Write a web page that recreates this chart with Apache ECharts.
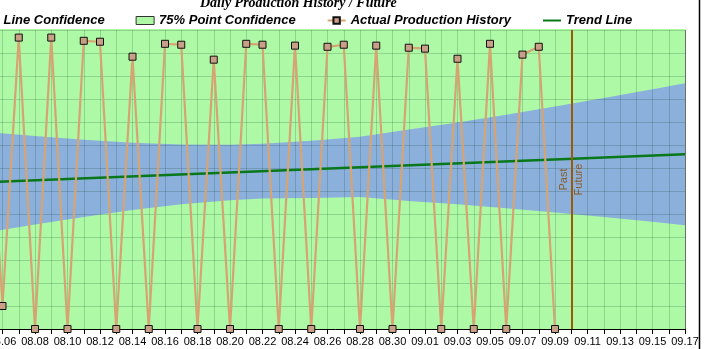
<!DOCTYPE html>
<html>
<head>
<meta charset="utf-8">
<script src="https://cdn.jsdelivr.net/npm/echarts@6/dist/echarts.min.js"></script>
<style>
  html, body { margin: 0; padding: 0; background: #ffffff; overflow: hidden; width: 722px; height: 349px; }
  /* the drawing surface starts 24px left of the page edge */
  #chart { position: absolute; left: -24px; top: 0; width: 746px; height: 349px; }
</style>
</head>
<body>
<div id="chart"></div>
<script>
// Daily production (MM.DD) and measured volume
const prodDates = ['08.05','08.06','08.07','08.08','08.09','08.10','08.11','08.12','08.13','08.14',
                   '08.15','08.16','08.17','08.18','08.19','08.20','08.21','08.22','08.23','08.24',
                   '08.25','08.26','08.27','08.28','08.29','08.30','08.31','09.01','09.02','09.03',
                   '09.04','09.05','09.06','09.07','09.08','09.09'];
const prodValues = [124, 10, 126.7, 0, 126.7, 0, 125.3, 124.9, 0, 118.4,
                    0, 124.0, 123.6, 0, 117.1, 0, 124.0, 123.6, 0, 123.2,
                    0, 122.7, 123.6, 0, 123.2, 0, 122.3, 121.9, 0, 117.5,
                    0, 124.0, 0, 119.3, 122.7, 0];

// Trend line end points
const trendDates = ['08.05', '09.17'];
const trendValues = [63.8, 76.0];

// Confidence band of the trend line
const lineConfDates = ['08.05','08.08','08.11','08.14','08.17','08.20','08.22','08.25',
                       '08.28','08.31','09.03','09.06','09.09','09.12','09.15','09.17'];
const lineConfLower = [41.96, 45.4, 48.7, 51.7, 54.2, 56.0, 56.7, 57.0,
                       57.4, 55.6, 54.2, 52.5, 50.7, 48.7, 46.6, 45.1];
const lineConfUpper = [85.65, 83.9, 82.3, 81.0, 80.2, 80.1, 80.5, 81.9,
                       83.6, 86.7, 89.8, 93.2, 96.7, 100.4, 104.2, 106.8];

// 75% point confidence band (wider than the plotted range)
const pointConfDates = ['08.05', '09.17'];
const pointConfLower = [-45, -60];
const pointConfUpper = [175, 190];

// Axis range and the past / future boundary
const axisStart = '08.05';
const axisEnd = '09.17';
const boundaryDate = '09.10';
const yMin = 0, yMax = 130, yStep = 10;

const BASE = Date.UTC(2000, 7, 6); // 08.06 = day 0
function dayIndex(md) {
  const [m, d] = md.split('.').map(Number);
  return Math.round((Date.UTC(2000, m - 1, d) - BASE) / 864e5);
}
function dayLabel(v) {
  if (Math.round(v) % 2 !== 0) return '';
  const dt = new Date(BASE + Math.round(v) * 864e5);
  const mm = String(dt.getUTCMonth() + 1).padStart(2, '0');
  const dd = String(dt.getUTCDate()).padStart(2, '0');
  return mm + '.' + dd;
}
const pairs = (dates, vals) => dates.map((d, i) => [dayIndex(d), vals[i]]);

const GREEN_FILL = '#aef9a6';
const BLUE_FILL = '#8cb0dc';
const GRID_LINE = 'rgba(0,50,20,0.18)';
const SHIFT = 24; // canvas offset to the left of the page
const legendFont = { fontFamily: 'Liberation Sans, Arial', fontWeight: 'bold', fontStyle: 'italic', fontSize: 13, color: '#000' };

// A filled band edge: area from the line down to the bottom of the plot
function bandEdge(name, dates, vals, fill, z) {
  return {
    name: name, type: 'line', z: z, silent: true,
    data: pairs(dates, vals),
    symbol: 'none', color: fill,
    lineStyle: { opacity: 0 },
    areaStyle: { color: fill, opacity: 1, origin: 'start' }
  };
}

const chart = echarts.init(document.getElementById('chart'), null, { renderer: 'canvas' });
chart.setOption({
  animation: false,
  backgroundColor: '#ffffff',
  title: {
    text: 'Daily Production History / Future',
    left: 200 + SHIFT, top: -4, padding: 0,
    textStyle: { fontFamily: 'Liberation Serif, Times New Roman', fontWeight: 'bold', fontStyle: 'italic', fontSize: 14, color: '#000' }
  },
  legend: {
    left: -20 + SHIFT, top: 14, padding: 0,
    itemWidth: 18, itemHeight: 8, itemGap: 31,
    textStyle: legendFont,
    data: [
      { name: 'Line Confidence', icon: 'rect', itemStyle: { color: BLUE_FILL, borderColor: '#333', borderWidth: 1 } },
      { name: '75% Point Confidence', icon: 'rect', itemStyle: { color: GREEN_FILL, borderColor: '#333', borderWidth: 1 } },
      { name: 'Actual Production History' },
      { name: 'Trend Line', itemStyle: { color: 'rgba(0,0,0,0)', borderWidth: 0, opacity: 0 } }
    ]
  },
  grid: {
    left: -13.75 + SHIFT, right: 37, top: 30, bottom: 20,
    outerBoundsMode: 'none', containLabel: false,
    show: true, z: -5, backgroundColor: 'transparent', borderColor: '#000', borderWidth: 1
  },
  xAxis: {
    type: 'value',
    min: dayIndex(axisStart), max: dayIndex(axisEnd), interval: 1,
    axisLine: { show: true, onZero: false, lineStyle: { color: '#000', width: 1 } },
    axisTick: { show: true, length: 5, lineStyle: { color: '#000' } },
    axisLabel: { margin: 7, formatter: dayLabel, color: '#000', fontFamily: 'Liberation Sans, Arial', fontSize: 11, showMinLabel: true, showMaxLabel: true },
    splitLine: { show: true, lineStyle: { color: GRID_LINE, width: 1 } }
  },
  yAxis: {
    type: 'value', min: yMin, max: yMax, interval: yStep,
    axisLine: { show: false }, axisTick: { show: false }, axisLabel: { show: false },
    splitLine: { show: true, lineStyle: { color: GRID_LINE, width: 1 } }
  },
  series: [
    bandEdge('75% Point Confidence', pointConfDates, pointConfUpper, GREEN_FILL, -4),
    bandEdge('pcLower', pointConfDates, pointConfLower, '#ffffff', -3),
    bandEdge('Line Confidence', lineConfDates, lineConfUpper, BLUE_FILL, -2),
    bandEdge('lcLower', lineConfDates, lineConfLower, GREEN_FILL, -1),
    {
      name: 'Trend Line', type: 'line', z: 3,
      data: pairs(trendDates, trendValues),
      symbol: 'none', color: '#08781a', lineStyle: { color: '#08781a', width: 2.5 }
    },
    {
      name: 'Actual Production History', type: 'line', z: 4,
      data: pairs(prodDates, prodValues),
      symbol: 'rect', symbolSize: 7, showAllSymbol: true,
      color: '#d2a07a',
      lineStyle: { color: '#d6a473', width: 2.2 },
      itemStyle: { color: '#c9a086', borderColor: '#111', borderWidth: 1 },
      markLine: {
        silent: true, symbol: 'none',
        lineStyle: { color: '#9c5a06', width: 2, type: 'solid' },
        label: { color: '#8a5a24', fontFamily: 'Liberation Sans, Arial', fontSize: 11, distance: 2 },
        data: [
          { xAxis: dayIndex(boundaryDate), label: { formatter: 'Past', position: 'insideMiddleTop' } },
          { xAxis: dayIndex(boundaryDate), label: { formatter: 'Future', position: 'insideMiddleBottom' } }
        ]
      }
    }
  ],
  graphic: [
    { type: 'line', shape: { x1: 699.5 + SHIFT, y1: 0, x2: 699.5 + SHIFT, y2: 349 }, style: { stroke: '#000', lineWidth: 1.5 }, z: 10 }
  ]
});
</script>
</body>
</html>
